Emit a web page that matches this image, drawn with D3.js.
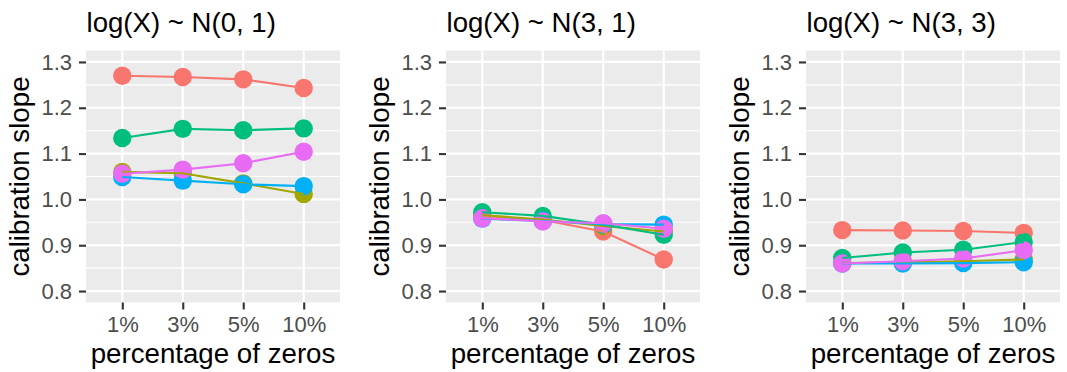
<!DOCTYPE html>
<html>
<head>
<meta charset="utf-8">
<script src="https://cdn.jsdelivr.net/npm/d3@7"></script>
<style>
  body { margin: 0; background: #fff; }
  svg text { font-family: "Liberation Sans", Arial, Helvetica, sans-serif; }
</style>
</head>
<body>
<div id="chart"></div>
<script>
// calibration slope vs percentage of zeros, one panel per distribution
const categories = ["1%", "3%", "5%", "10%"];
const panelTitles = ["log(X) ~ N(0, 1)", "log(X) ~ N(3, 1)", "log(X) ~ N(3, 3)"];
const seriesColors = ["#F8766D", "#A3A500", "#00BF7D", "#00B0F6", "#E76BF3"];
const yTicks = [0.8, 0.9, 1.0, 1.1, 1.2, 1.3];
const yMinor = [0.85, 0.95, 1.05, 1.15, 1.25];

// values per panel, series order: red, olive, green, blue, pink
const panel1 = [
  [1.270, 1.267, 1.262, 1.243],
  [1.060, 1.057, 1.035, 1.012],
  [1.134, 1.154, 1.151, 1.155],
  [1.049, 1.041, 1.033, 1.029],
  [1.056, 1.065, 1.079, 1.104]
];
const panel2 = [
  [0.964, 0.955, 0.930, 0.869],
  [0.966, 0.956, 0.942, 0.930],
  [0.972, 0.964, 0.945, 0.923],
  [0.958, 0.953, 0.946, 0.945],
  [0.959, 0.952, 0.948, 0.936]
];
const panel3 = [
  [0.933, 0.932, 0.931, 0.927],
  [0.861, 0.863, 0.865, 0.869],
  [0.872, 0.884, 0.890, 0.907],
  [0.860, 0.860, 0.861, 0.863],
  [0.860, 0.865, 0.871, 0.889]
];
const panels = [panel1, panel2, panel3];

const width = 1067, height = 372;
const panelStep = 360;
const padLeft = 86, padTop = 50.5, pw = 254, ph = 252;

const svg = d3.select("#chart").append("svg")
  .attr("width", width).attr("height", height);

const x = d3.scalePoint().domain(categories).range([padLeft, padLeft + pw]).padding(0.6);
const y = d3.scaleLinear().domain([0.775, 1.325]).range([padTop + ph, padTop]);

panels.forEach(function (data, p) {
  const g = svg.append("g").attr("transform", "translate(" + (p * panelStep) + ",0)");

  g.append("rect")
    .attr("x", padLeft).attr("y", padTop).attr("width", pw).attr("height", ph)
    .attr("fill", "#EBEBEB");

  // grid
  g.selectAll(".minor").data(yMinor).enter().append("line")
    .attr("x1", padLeft).attr("x2", padLeft + pw)
    .attr("y1", d => y(d)).attr("y2", d => y(d))
    .attr("stroke", "#fff").attr("stroke-width", 1.1);
  g.selectAll(".majory").data(yTicks).enter().append("line")
    .attr("x1", padLeft).attr("x2", padLeft + pw)
    .attr("y1", d => y(d)).attr("y2", d => y(d))
    .attr("stroke", "#fff").attr("stroke-width", 2.2);
  g.selectAll(".majorx").data(categories).enter().append("line")
    .attr("x1", d => x(d)).attr("x2", d => x(d))
    .attr("y1", padTop).attr("y2", padTop + ph)
    .attr("stroke", "#fff").attr("stroke-width", 2.2);

  // axes
  const ya = g.append("g").attr("transform", "translate(" + padLeft + ",0)")
    .call(d3.axisLeft(y).tickValues(yTicks).tickFormat(d3.format(".1f")).tickSize(7).tickPadding(7));
  const xa = g.append("g").attr("transform", "translate(0," + (padTop + ph) + ")")
    .call(d3.axisBottom(x).tickSize(7).tickPadding(6.5));
  [ya, xa].forEach(function (a) {
    a.select(".domain").remove();
    a.selectAll(".tick line").attr("stroke", "#333333").attr("stroke-width", 2.1);
    a.selectAll(".tick text").attr("fill", "#4D4D4D").style("font-size", "22px");
  });

  // points first, lines on top
  data.forEach(function (vals, s) {
    g.selectAll(".pt" + s).data(vals).enter().append("circle")
      .attr("cx", (d, i) => x(categories[i]))
      .attr("cy", d => y(d))
      .attr("r", 9.2)
      .attr("fill", seriesColors[s]);
  });
  const line = d3.line().x((d, i) => x(categories[i])).y(d => y(d));
  data.forEach(function (vals, s) {
    g.append("path").datum(vals)
      .attr("d", line)
      .attr("fill", "none")
      .attr("stroke", seriesColors[s])
      .attr("stroke-width", 2.1);
  });

  // titles
  g.append("text")
    .attr("x", padLeft + 0.5).attr("y", 31.5)
    .style("font-size", "27.6px").attr("fill", "#000")
    .text(panelTitles[p]);
  g.append("text")
    .attr("x", padLeft + pw / 2).attr("y", 363)
    .attr("text-anchor", "middle")
    .style("font-size", "27.7px").attr("fill", "#000")
    .text("percentage of zeros");
  g.append("text")
    .attr("transform", "translate(28.5," + (padTop + ph / 2) + ") rotate(-90)")
    .attr("text-anchor", "middle")
    .style("font-size", "27.7px").attr("fill", "#000")
    .text("calibration slope");
});
</script>
</body>
</html>
